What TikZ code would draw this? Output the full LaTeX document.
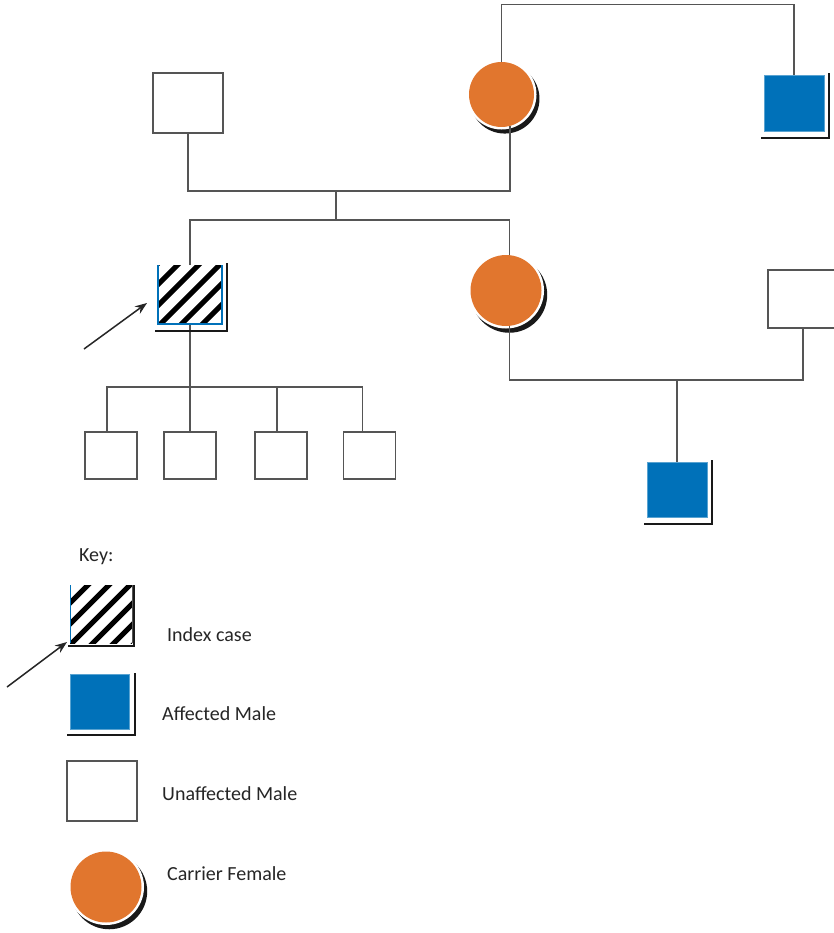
\documentclass[tikz,border=0pt]{standalone}
\usepackage{fontspec}
\setmainfont{Carlito}
\usetikzlibrary{arrows.meta,shadows}
\definecolor{carrierc}{RGB}{225,118,46}
\definecolor{affectedc}{RGB}{0,113,185}
\definecolor{lineg}{RGB}{85,85,85}
\tikzset{
  person/.style={inner sep=0pt,outer sep=0pt},
  unaffmale/.style={person,rectangle,draw=lineg,line width=1.4pt,fill=white},
  affmale/.style={person,rectangle,fill=affectedc,draw=affectedc!65!white,line width=0.8pt},
  carrier/.style={person,circle,
    general shadow={fill=black!90,shadow xshift=3pt,shadow yshift=-4pt,shadow scale=1.07},
    preaction={draw=white,line width=5pt},fill=carrierc},
  indexcase/.style={person,rectangle,fill=white,path picture={
    \foreach \k in {-4,...,4}
      \draw[black,line width=5pt] ([xshift=\k*21pt]path picture bounding box.center)
        ++(-60pt,-60pt) -- ++(120pt,120pt);}},
  link/.style={draw=lineg,line width=1.4pt},
  shade/.style={draw=black!90,line width=2.6pt},
  pointer/.style={draw=black!85,line width=1.5pt,-{Stealth[length=12pt,width=9pt]}},
  keytext/.style={anchor=base west,inner sep=0pt,text=black!85,font=\fontsize{20}{24}\selectfont}
}
\begin{document}
\begin{tikzpicture}[x=1pt,y=-1pt]
  \useasboundingbox[fill=white] (0,0) rectangle (833,933);
  % pedigree
  \node[unaffmale,minimum width=70pt,minimum height=60pt] (gpM) at (188,103) {};
  \node[carrier,minimum size=65pt] (gpF) at (501.5,94.5) {};
  \node[affmale,minimum width=60pt,minimum height=56pt] (gpB) at (794,103) {};
  \node[indexcase,minimum width=64pt,minimum height=59pt] (idx) at (190,294.5) {};
  \node[carrier,minimum size=71pt] (sis) at (506,290.5) {};
  \node[unaffmale,minimum width=70pt,minimum height=58pt] (hus) at (803,299) {};
  \node[affmale,minimum width=60pt,minimum height=55pt] (nep) at (677,489.5) {};
  \foreach \n/\x in {c1/111,c2/190,c3/281,c4/369.5}
    \node[unaffmale,minimum width=52pt,minimum height=47pt] (\n) at (\x,455.5) {};
  \coordinate (top) at (650,4.5);
  \coordinate (mar) at (336,191);
  \coordinate (sib) at (336,220);
  \coordinate (mar2) at (677,380);
  \coordinate (kids) at (190,387);
  \coordinate (ptr1) at (84,349);

  \draw[link] (gpF.north) -- (gpF.north |- top) -| (gpB.north);
  \draw[link] (gpM.south) |- (mar) -| (gpF.-75);
  \draw[link] (mar) -- (sib);
  \draw[link] (idx.north) |- (sib) -| (sis.84);
  \draw[link] (sis.-84) |- (mar2) -| (hus.south);
  \draw[link] (mar2) -- (nep.north);
  \draw[link] (idx.south) -- (kids) -- (c2.north);
  \draw[link] ([xshift=-4pt]c1.north) |- (kids) -| ([xshift=-7pt]c4.north);
  \draw[link] ([xshift=-4pt]c3.north) -- ([xshift=-4pt]c3.north |- kids);

  \draw[draw=affectedc,line width=1.2pt] (idx.north west) |- (idx.south east) -- (idx.north east);
  \foreach \n in {gpB,idx,nep}
    \draw[shade] ([xshift=-3pt,yshift=-7pt]\n.south west) -| ([xshift=5pt,yshift=2pt]\n.north east);
  \draw[pointer] (ptr1) -- ([shift={(-11pt,21pt)}]idx.south west);

  % key
  \node[keytext] (keyhead) at (79,561) {Key:};
  \node[indexcase,minimum width=62pt,minimum height=58pt] (kIdx) at (101,614) {};
  \draw[draw=affectedc,line width=0.8pt] (kIdx.north west) -- (kIdx.south west);
  \draw[lineg,line width=1pt] (kIdx.north east) -- (kIdx.south east);
  \draw[shade] ([xshift=-2pt,yshift=-3pt]kIdx.south west) -| ([xshift=2pt]kIdx.north east);
  \coordinate (ptr2) at (7,687);
  \draw[pointer] (ptr2) -- ([shift={(-3pt,1pt)}]kIdx.south west);
  \node[keytext] (tIdx) at (167,641) {Index case};

  \node[affmale,minimum width=59pt,minimum height=55pt] (kAff) at (99.5,701.5) {};
  \draw[shade] ([xshift=-3pt,yshift=-6pt]kAff.south west) -| ([xshift=6pt,yshift=1pt]kAff.north east);
  \node[keytext] (tAff) at (162,720) {Affected Male};

  \node[unaffmale,minimum width=70pt,minimum height=60pt] (kUn) at (102,791) {};
  \node[keytext] (tUn) at (162,800) {Unaffected Male};

  \node[carrier,minimum size=71pt] (kCar) at (106,887) {};
  \node[keytext] (tCar) at (167,880) {Carrier Female};
\end{tikzpicture}
\end{document}
